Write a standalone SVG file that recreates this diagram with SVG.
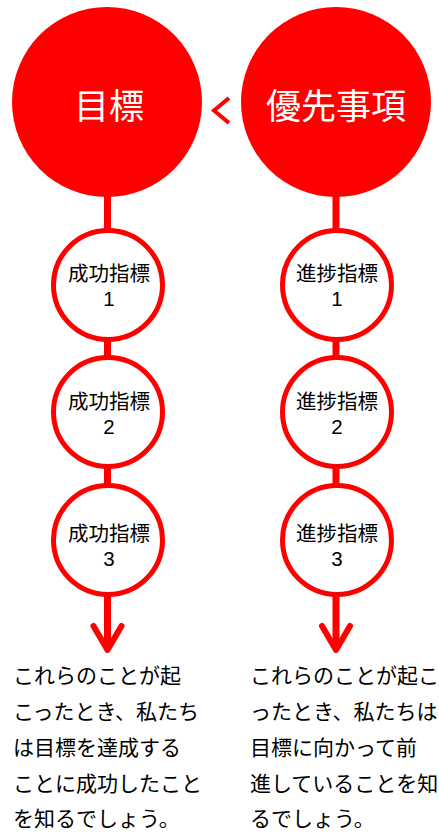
<svg xmlns="http://www.w3.org/2000/svg" width="439" height="833" viewBox="0 0 439 833">
<style>
.big{fill:#FF0000}
.small{fill:#fff;stroke:#FF0000;stroke-width:5}
.line{stroke:#FF0000;stroke-width:7;fill:none}
.head{stroke:#FF0000;stroke-width:6;fill:none;stroke-linecap:round;stroke-linejoin:round}
.bt{font-family:"Noto Sans CJK JP",sans-serif;fill:#fff;font-size:35px;text-anchor:middle}
.st{font-family:"Liberation Sans","Noto Sans CJK JP",sans-serif;fill:#000;font-size:20.5px;text-anchor:middle}
.desc{font-family:"Noto Sans CJK JP",sans-serif;fill:#000;font-size:21px}
</style>
<g id="connectors">
<line class="line" x1="107.5" y1="195" x2="107.5" y2="231"/>
<line class="line" x1="107.5" y1="338" x2="107.5" y2="358"/>
<line class="line" x1="107.5" y1="466" x2="107.5" y2="486"/>
<line class="line" x1="107.5" y1="594" x2="107.5" y2="648"/>
<polyline class="head" points="93.5,626 107.5,650 121.5,626"/>
<line class="line" x1="336" y1="195" x2="336" y2="231"/>
<line class="line" x1="336" y1="338" x2="336" y2="358"/>
<line class="line" x1="336" y1="466" x2="336" y2="486"/>
<line class="line" x1="336" y1="594" x2="336" y2="648"/>
<polyline class="head" points="322,626 336,650 350,626"/>
<polyline points="229,98 214,110.5 229,123" fill="none" stroke="#FF0000" stroke-width="4"/>
</g>
<g id="goal">
<circle class="big" cx="107" cy="102" r="95"/>
<text class="bt" x="109" y="119">目標</text>
</g>
<g id="priority">
<circle class="big" cx="336" cy="102" r="95"/>
<text class="bt" x="336" y="119">優先事項</text>
</g>
<g id="success1">
<circle class="small" cx="108" cy="285" r="54.5"/>
<text class="st" x="109" y="281">成功指標</text>
<text class="st" x="109" y="306">1</text>
</g>
<g id="success2">
<circle class="small" cx="108" cy="412" r="54.5"/>
<text class="st" x="109" y="409">成功指標</text>
<text class="st" x="109" y="434">2</text>
</g>
<g id="success3">
<circle class="small" cx="108" cy="540" r="54.5"/>
<text class="st" x="109" y="541">成功指標</text>
<text class="st" x="109" y="566">3</text>
</g>
<g id="progress1">
<circle class="small" cx="337" cy="285" r="54.5"/>
<text class="st" x="337" y="281">進捗指標</text>
<text class="st" x="337" y="306">1</text>
</g>
<g id="progress2">
<circle class="small" cx="337" cy="412" r="54.5"/>
<text class="st" x="337" y="409">進捗指標</text>
<text class="st" x="337" y="434">2</text>
</g>
<g id="progress3">
<circle class="small" cx="337" cy="540" r="54.5"/>
<text class="st" x="337" y="541">進捗指標</text>
<text class="st" x="337" y="566">3</text>
</g>
<g id="goal-text">
<text class="desc" x="13" y="683">これらのことが起</text>
<text class="desc" x="13" y="719">こったとき、私たち</text>
<text class="desc" x="13" y="755">は目標を達成する</text>
<text class="desc" x="13" y="791">ことに成功したこと</text>
<text class="desc" x="13" y="826">を知るでしょう。</text>
</g>
<g id="priority-text">
<text class="desc" x="250" y="683">これらのことが起こ</text>
<text class="desc" x="250" y="719">ったとき、私たちは</text>
<text class="desc" x="250" y="755">目標に向かって前</text>
<text class="desc" x="250" y="791">進していることを知</text>
<text class="desc" x="250" y="826">るでしょう。</text>
</g>
</svg>
